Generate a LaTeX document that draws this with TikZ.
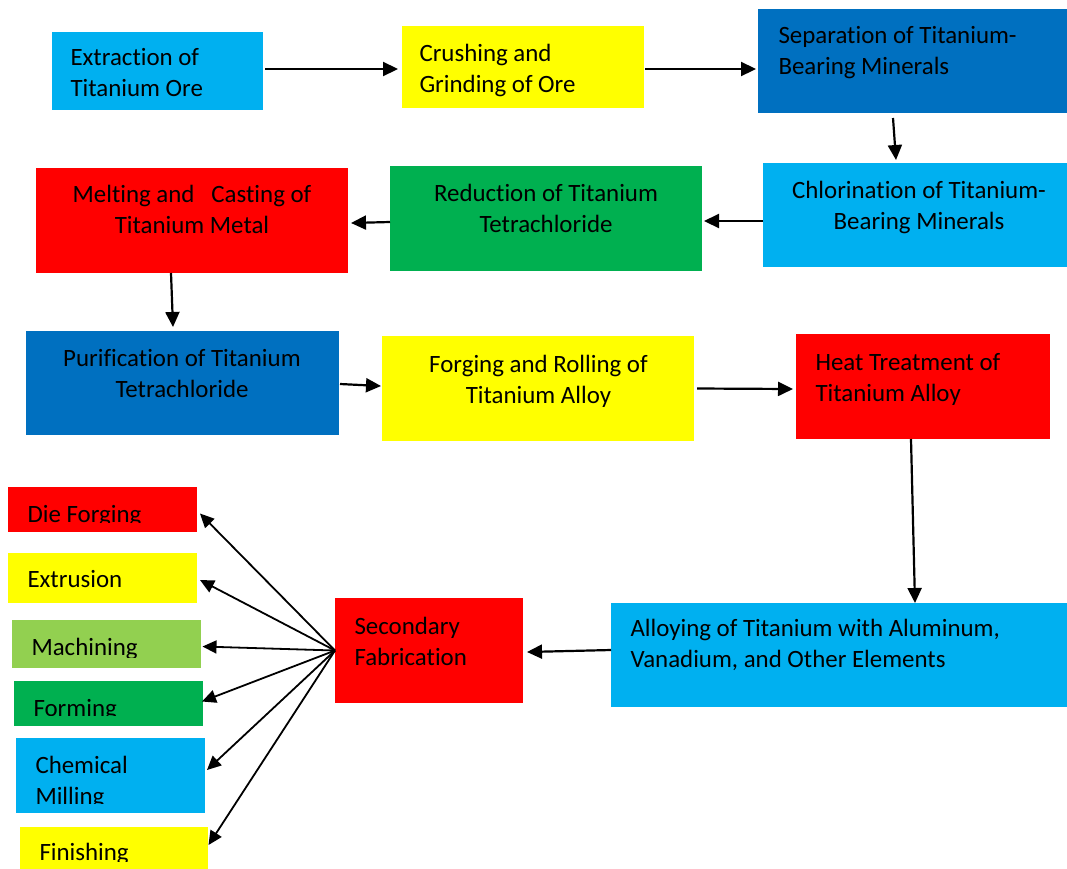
\documentclass[tikz,border=0pt]{standalone}
\usepackage{fontspec}
\setmainfont{Carlito}[Ligatures={NoCommon,NoContextual}]
\usetikzlibrary{arrows.meta}
\definecolor{cyanbox}{HTML}{00B0F0}
\definecolor{yellowbox}{HTML}{FFFF00}
\definecolor{bluebox}{HTML}{0070C0}
\definecolor{greenbox}{HTML}{00B050}
\definecolor{redbox}{HTML}{FF0000}
\definecolor{limebox}{HTML}{92D050}
\newcommand\tl[1]{\begin{tabular}[t]{@{}l@{}}#1\end{tabular}}
\newcommand\tcc[1]{\begin{tabular}[t]{@{}c@{}}#1\end{tabular}}
\tikzset{
  box/.style={inner sep=0pt, outer sep=0pt, anchor=north west, draw=none},
  txt/.style={inner sep=0pt, outer sep=0pt, font=\fontsize{24.9}{31}\selectfont, text=black},
  arr/.style={-{Triangle[length=15pt,width=14pt]}, line width=2.2pt, black},
  fan/.style={-{Triangle[length=14pt,width=13pt]}, line width=1.8pt, black}
}
\begin{document}
\begin{tikzpicture}[x=1pt,y=-1pt]
\useasboundingbox[fill=white] (0,0) rectangle (1067,868);
% main boxes
\node[box, fill=cyanbox,   minimum width=211pt, minimum height=78pt]  (b1) at (52,32) {};
\node[box, fill=yellowbox, minimum width=242pt, minimum height=82pt]  (b2) at (402,26) {};
\node[box, fill=bluebox,   minimum width=309pt, minimum height=104pt] (b3) at (758,9) {};
\node[box, fill=cyanbox,   minimum width=304pt, minimum height=104pt] (b4) at (763,163) {};
\node[box, fill=greenbox,  minimum width=312pt, minimum height=105pt] (b5) at (390,166) {};
\node[box, fill=redbox,    minimum width=312pt, minimum height=105pt] (b6) at (36,168) {};
\node[box, fill=bluebox,   minimum width=313pt, minimum height=104pt] (b7) at (26,331) {};
\node[box, fill=yellowbox, minimum width=312pt, minimum height=105pt] (b8) at (382,336) {};
\node[box, fill=redbox,    minimum width=254pt, minimum height=105pt] (b9) at (796,334) {};
\node[box, fill=cyanbox,   minimum width=456pt, minimum height=104pt] (b10) at (611,603) {};
\node[box, fill=redbox,    minimum width=188pt, minimum height=105pt] (b11) at (335,598) {};
% left boxes
\node[box, fill=redbox,    minimum width=189pt, minimum height=45pt] (df) at (8,487) {};
\node[box, fill=yellowbox, minimum width=189pt, minimum height=50pt] (ex) at (8,553) {};
\node[box, fill=limebox,   minimum width=189pt, minimum height=48pt] (ma) at (12,620) {};
\node[box, fill=greenbox,  minimum width=189pt, minimum height=45pt] (fo) at (14,681) {};
\node[box, fill=cyanbox,   minimum width=189pt, minimum height=75pt] (cm) at (16,738) {};
\node[box, fill=yellowbox, minimum width=188pt, minimum height=43pt] (fi) at (20,827) {};
% texts
\node[txt, anchor=base west] (t1) at (70.5,65.7) {\tl{Extraction of\\Titanium Ore}};
\node[txt, anchor=base west] (t2) at (419.5,61.5) {\tl{Crushing and\\Grinding of Ore}};
\node[txt, anchor=base west] (t3) at (778.5,43.3) {\tl{Separation of Titanium-\\Bearing Minerals}};
\node[txt, anchor=base] (t4) at (919,198) {\tcc{Chlorination of Titanium-\\Bearing Minerals}};
\node[txt, anchor=base] (t5) at (546,201.5) {\tcc{Reduction of Titanium\\Tetrachloride}};
\node[txt, anchor=base] (t6) at (192,202.7) {\tcc{Melting and~~~Casting of\\Titanium Metal}};
\node[txt, anchor=base] (t7) at (182,366) {\tcc{Purification of Titanium\\Tetrachloride}};
\node[txt, anchor=base] (t8) at (538.5,372) {\tcc{Forging and Rolling of\\Titanium Alloy}};
\node[txt, anchor=base west] (t9) at (815.5,370) {\tl{Heat Treatment of\\Titanium Alloy}};
\node[txt, anchor=base west] (t10) at (630.5,636.7) {\tl{Alloying of Titanium with Aluminum,\\Vanadium, and Other Elements}};
\node[txt, anchor=base west] (t11) at (354.5,634.3) {\tl{Secondary\\Fabrication}};
\begin{scope}
  \clip (8,487) rectangle (197,522);
  \node[txt, anchor=base west] (tdf) at (27.5,522.5) {Die Forging};
\end{scope}
\node[txt, anchor=base west] (tex) at (27.5,587) {Extrusion};
\begin{scope}
  \clip (12,620) rectangle (201,657);
  \node[txt, anchor=base west] (tma) at (31.5,655.5) {Machining};
\end{scope}
\begin{scope}
  \clip (14,681) rectangle (203,715.5);
  \node[txt, anchor=base west] (tfo) at (33.5,716) {Forming};
\end{scope}
\begin{scope}
  \clip (16,738) rectangle (205,803.5);
  \node[txt, anchor=base west] (tcm) at (35.5,773.3) {\tl{Chemical\\Milling}};
\end{scope}
\begin{scope}
  \clip (20,827) rectangle (208,861);
  \node[txt, anchor=base west] (tfi) at (39.5,860.5) {Finishing};
\end{scope}
% main connectors
\draw[arr] ([xshift=2pt,yshift=2pt]b1.east) -- ([xshift=-4pt,yshift=-2pt]b2.west);
\draw[arr] ([xshift=1pt,yshift=-2pt]b2.east) -- ([xshift=-2pt,yshift=-8pt]b3.west);
\draw[arr] ([xshift=-19.5pt,yshift=-5pt]b3.south) -- ([xshift=-19pt,yshift=3pt]b4.north);
\draw[arr] ([yshift=-6pt]b4.west) -- ([xshift=2pt,yshift=-2.5pt]b5.east);
\draw[arr] ([yshift=-3.5pt]b5.west) -- ([xshift=3pt,yshift=-2.5pt]b6.east);
\draw[arr] ([xshift=-21pt]b6.south) -- ([xshift=-9.5pt,yshift=4pt]b7.north);
\draw[arr] ([xshift=1pt,yshift=-1pt]b7.east) -- ([xshift=-1pt,yshift=2.5pt]b8.west);
\draw[arr] ([xshift=3pt]b8.east) -- ([xshift=-3pt,yshift=-2.5pt]b9.west);
\draw[arr] ([xshift=-12pt]b9.south) -- ([xshift=76pt]b10.north);
\draw[arr] ([yshift=5pt]b10.west) -- ([xshift=4pt,yshift=-1.5pt]b11.east);
% fan connectors
\draw[fan] (b11.west) -- ([xshift=3pt,yshift=-4pt]df.east);
\draw[fan] (b11.west) -- ([xshift=3pt,yshift=-2pt]ex.east);
\draw[fan] (b11.west) -- ([xshift=1.5pt,yshift=-2.5pt]ma.east);
\draw[fan] (b11.west) -- ([xshift=-1pt,yshift=2pt]fo.east);
\draw[fan] (b11.west) -- ([xshift=2pt,yshift=5.5pt]cm.east);
\draw[fan] (b11.west) -- ([xshift=0.5pt,yshift=3.5pt]fi.east);
\end{tikzpicture}
\end{document}
